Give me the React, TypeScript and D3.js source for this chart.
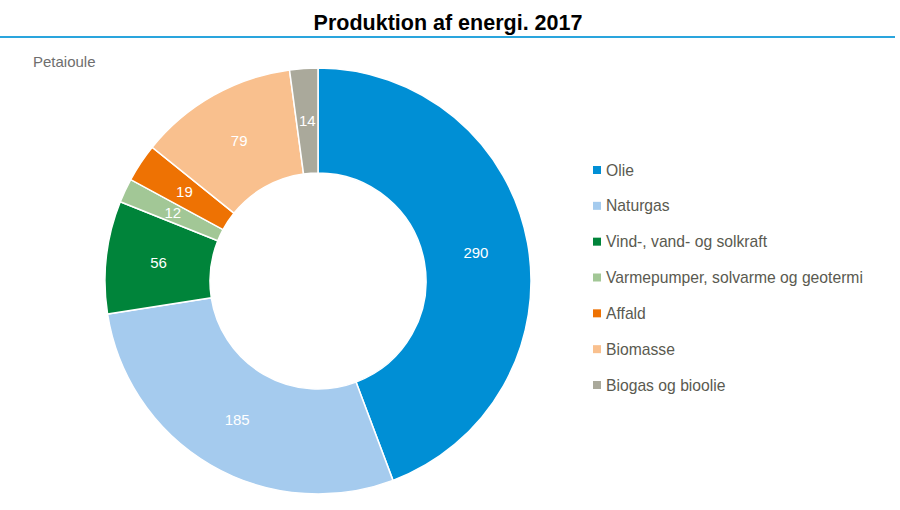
import React from 'react'
import * as d3 from 'd3'

const categories = ['Olie', 'Naturgas', 'Vind-, vand- og solkraft', 'Varmepumper, solvarme og geotermi', 'Affald', 'Biomasse', 'Biogas og bioolie']
const values = [290, 185, 56, 12, 19, 79, 14]
const colors = ['#008fd5', '#a5cbee', '#00843a', '#a2c796', '#ee7203', '#f9c08e', '#aaa99b']

const font = '"Liberation Sans", Arial, sans-serif'

export default function App() {
  const dims = { w: 900, h: 510, cx: 318, cy: 281, outer: 213, inner: 108 }
  const data = categories.map((name, i) => ({ name, value: values[i], color: colors[i] }))

  const pie = d3.pie<any>().value(d => d.value).sort(null)
  const arcs = pie(data)
  const arc = d3.arc<any>().innerRadius(dims.inner).outerRadius(dims.outer)
  const labelArc = d3.arc<any>().innerRadius((dims.inner + dims.outer) / 2).outerRadius((dims.inner + dims.outer) / 2)

  const legendY = d3.scalePoint().domain(categories).range([170, 385])

  return (
    <div style={{ position: 'absolute', left: 0, top: 0 }}>
      <svg width={dims.w} height={dims.h} style={{ display: 'block', background: '#fff' }} fontFamily={font}>
        <text x={448} y={30} textAnchor='middle' fontSize={21.5} fontWeight='bold' fill='#000'>Produktion af energi. 2017</text>
        <line x1={0} x2={895} y1={37} y2={37} stroke='#2aa5dd' strokeWidth={2} />
        <text x={33} y={67} fontSize={15} fill='#6e6e6e'>Petaioule</text>

        <g transform={`translate(${dims.cx},${dims.cy})`}>
          {arcs.map((a, i) => (
            <path key={i} d={arc(a) as string} fill={a.data.color} stroke='#fff' strokeWidth={1.5} />
          ))}
          {arcs.map((a, i) => {
            const [x, y] = labelArc.centroid(a)
            return (
              <text key={'l' + i} x={x} y={y} dy='0.35em' textAnchor='middle' fontSize={15} fill='#fff'>{a.data.value}</text>
            )
          })}
        </g>

        <g>
          {data.map((d, i) => (
            <g key={i} transform={`translate(593,${legendY(d.name)})`}>
              <rect x={0} y={-4} width={8} height={8} fill={d.color} />
              <text x={13} y={0} dy='0.35em' fontSize={15.7} fill='#5a5a50'>{d.name}</text>
            </g>
          ))}
        </g>
      </svg>
    </div>
  )
}
